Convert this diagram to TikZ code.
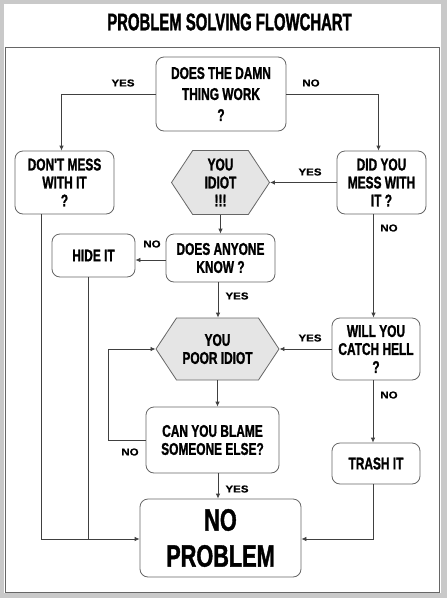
\documentclass[tikz,border=0pt]{standalone}
\usepackage{fontspec}
\usetikzlibrary{arrows.meta,shapes.symbols}
\newfontfamily\boxfont{Liberation Sans Bold}[FakeStretch=0.7,FakeBold=1.2]
\newfontfamily\titlefont{Liberation Sans Bold}[FakeStretch=0.62,FakeBold=1.4]
\newfontfamily\answerfont{Liberation Sans Bold}[FakeStretch=1.15,FakeBold=0.6]
\definecolor{LineClr}{rgb}{0.25,0.25,0.25}
\definecolor{BorderClr}{rgb}{0.4,0.4,0.4}
\definecolor{HexClr}{rgb}{0.9,0.9,0.9}
\definecolor{FrameClr}{rgb}{0.79,0.79,0.79}

\tikzset{
  qbox/.style={draw=BorderClr, line width=0.8pt, rounded corners=8pt, fill=white,
    align=center, inner sep=1pt, font=\boxfont\fontsize{17}{18}\selectfont},
  hexbox/.style={qbox, sharp corners, signal, signal to=west and east,
    signal pointer angle=113, fill=HexClr},
  answer/.style={font=\answerfont\fontsize{10}{10}\selectfont, inner sep=0pt},
  flow/.style={draw=LineClr, line width=0.8pt, -{Latex[length=5pt,width=4.5pt]}},
  joinline/.style={draw=LineClr, line width=0.8pt},
}

\begin{document}
\begin{tikzpicture}[x=1pt,y=-1pt]
\useasboundingbox (0,0) rectangle (447,598);

% frame and title
\fill[FrameClr] (0,0) rectangle (447,598);
\fill[white] (4,4) rectangle (441,593);
\draw[BorderClr, line width=1pt] (5,47) rectangle (439,592);
\node[font=\titlefont\fontsize{24}{24}\selectfont] (title) at (229.5,22) {PROBLEM SOLVING FLOWCHART};

% boxes
\node[qbox, minimum width=130pt, minimum height=74pt, font=\boxfont\fontsize{17}{21}\selectfont] (work) at (221,94) {DOES THE DAMN\\THING WORK\\?};
\node[qbox, minimum width=99pt, minimum height=63pt] (dontmess) at (64.5,182.5) {DON'T MESS\\WITH IT\\?};
\node[hexbox, minimum width=98pt, minimum height=64pt] (idiot) at (220.5,182.5) {YOU\\IDIOT\\!!!};
\node[qbox, minimum width=89pt, minimum height=63pt] (didyou) at (381.5,182.5) {DID YOU\\MESS WITH\\IT ?};
\node[qbox, minimum width=109pt, minimum height=48pt] (anyone) at (220.5,258) {DOES ANYONE\\KNOW ?};
\node[qbox, minimum width=83pt, minimum height=43pt] (hide) at (93.5,255.5) {HIDE IT};
\node[hexbox, minimum width=123pt, minimum height=62pt] (poor) at (217.5,349) {YOU\\POOR IDIOT};
\node[qbox, minimum width=88pt, minimum height=62pt] (catch) at (376,349) {WILL YOU\\CATCH HELL\\?};
\node[qbox, minimum width=133pt, minimum height=66pt] (blame) at (212.5,440) {CAN YOU BLAME\\SOMEONE ELSE?};
\node[qbox, minimum width=88pt, minimum height=41pt] (trash) at (376,463.5) {TRASH IT};
\node[qbox, minimum width=161pt, minimum height=78pt, font=\boxfont\fontsize{31}{36}\selectfont] (noprob) at (220.5,538) {NO\\PROBLEM};

% connectors
\draw[flow] (work.west) -| ([xshift=-3pt]dontmess.north);
\draw[flow] (work.east) -| ([xshift=-3pt]didyou.north);
\draw[flow] (didyou.west) -- (idiot.east);
\draw[flow] (idiot.south) -- (anyone.north);
\draw[flow] ([yshift=-2pt]anyone.west) -- ([yshift=-2pt]anyone.west -| hide.east);
\draw[flow] ([xshift=-2.5pt]anyone.south) -- ([xshift=-2.5pt]anyone.south |- poor.north);
\draw[flow] ([xshift=-8pt]didyou.south) -- ([xshift=-8pt]didyou.south |- catch.north);
\draw[flow] (catch.west) -- (poor.east);
\draw[flow] (poor.south) -- (poor.south |- blame.north);
\coordinate (loop) at (108,440);
\draw[flow] (blame.west) -- (loop) |- (poor.west);
\draw[flow] ([xshift=5.5pt]blame.south) -- ([xshift=5.5pt]blame.south |- noprob.north);
\draw[flow] ([xshift=-3pt]catch.south) -- ([xshift=-3pt]catch.south |- trash.north);
\draw[flow] ([xshift=-23.5pt]dontmess.south) |- ([yshift=-1pt]noprob.west);
\draw[joinline] ([xshift=-5.5pt]hide.south) -- ([xshift=-5.5pt,yshift=-1pt]hide.south |- noprob.west);
\draw[flow] ([xshift=-3pt]trash.south) |- ([yshift=-1pt]noprob.east);

% answers
\node[answer] (a1) at (123,83) {YES};
\node[answer] (a2) at (311,83) {NO};
\node[answer] (a3) at (310,172) {YES};
\node[answer] (a4) at (152,244) {NO};
\node[answer] (a5) at (389,228) {NO};
\node[answer] (a6) at (237,296) {YES};
\node[answer] (a7) at (310,338) {YES};
\node[answer] (a8) at (389,395) {NO};
\node[answer] (a9) at (130,452) {NO};
\node[answer] (a10) at (237,489) {YES};
\end{tikzpicture}
\end{document}
